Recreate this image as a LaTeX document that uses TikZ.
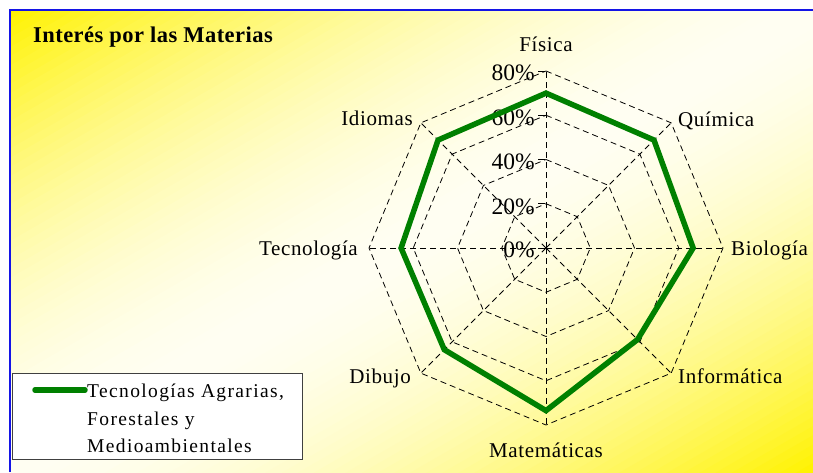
\documentclass[tikz,border=0pt]{standalone}
\usepackage{fontspec}
\usetikzlibrary{calc}
\setmainfont{Liberation Serif}
\newfontfamily\catfont[LetterSpace=3]{Liberation Serif}
\newfontfamily\legfont[LetterSpace=7]{Liberation Serif}
\newfontfamily\titfont[LetterSpace=2]{Liberation Serif}
\definecolor{serie}{RGB}{0,128,0}
\definecolor{frameblue}{RGB}{20,20,230}
\begin{document}
\begin{tikzpicture}[x=1pt,y=1pt,
  gridline/.style={black, line width=0.8pt, dash pattern=on 6pt off 4pt},
  catlabel/.style={inner sep=0pt, font=\catfont\fontsize{21}{24}\selectfont},
  pctlabel/.style={inner sep=0pt, anchor=base east, font=\fontsize{23.5}{26}\selectfont},
  leglabel/.style={inner sep=0pt, anchor=base west, font=\legfont\fontsize{19.5}{22}\selectfont},
  serieline/.style={serie, line width=5.5pt, line join=miter}]
\useasboundingbox (0,0) rectangle (813,472);
\fill[white] (0,0) rectangle (813,472);
% diagonal gradient: yellow corners (top-left, bottom-right), white across the other diagonal
\begin{scope}
\clip (9.5,0) rectangle (813,461.5);
\foreach \i in {0,...,99}{
  \pgfmathsetmacro\sa{\i*0.02}
  \pgfmathsetmacro\sb{\i*0.02+0.024}
  \pgfmathsetmacro\pp{5+95*(abs(0.5-(\i+0.5)/100)/0.5)^1.7}
  \pgfmathsetmacro\xa{9.5+\sa*401.75}
  \pgfmathsetmacro\ya{461.5-\sa*230.75}
  \pgfmathsetmacro\xb{9.5+\sb*401.75}
  \pgfmathsetmacro\yb{461.5-\sb*230.75}
  \fill[yellow!\pp!white] (\xa-803.5,\ya-461.5) -- (\xa+803.5,\ya+461.5) -- (\xb+803.5,\yb+461.5) -- (\xb-803.5,\yb-461.5) -- cycle;
}
\end{scope}
\draw[frameblue, line width=2pt] (9.5,0) -- (9.5,461.5) -- (813,461.5);

% title
\node[inner sep=0pt, anchor=base west, font=\titfont\bfseries\fontsize{22.5}{24}\selectfont] (title) at (33,429) {Interés por las Materias};

% radar grid
\coordinate (C) at (546,224);
\foreach \r in {44.25,88.5,132.75,177}{
  \draw[gridline, shift={(C)}] (90:\r) -- (45:\r) -- (0:\r) -- (-45:\r) -- (-90:\r) -- (-135:\r) -- (180:\r) -- (135:\r) -- cycle;
}
\foreach \a in {90,45,0,-45,-90,-135,180,135}{
  \draw[gridline] (C) -- ++(\a:177);
}
\foreach \k in {0,1,2,3,4}{
  \draw[black, line width=0.8pt] ($(C)+(-8,\k*44.25)$) -- ($(C)+(-1,\k*44.25)$);
}

% percent labels
\node[pctlabel] (p0) at (535,215) {0\%};
\node[pctlabel] (p20) at (535,258) {20\%};
\node[pctlabel] (p40) at (535,302) {40\%};
\node[pctlabel] (p60) at (535,346) {60\%};
\node[pctlabel] (p80) at (535,391) {80\%};

% category labels
\node[catlabel, anchor=base] (fis) at (546,420) {Física};
\node[catlabel, anchor=base west] (qui) at (678,345) {Química};
\node[catlabel, anchor=base west] (bio) at (731,217) {Biología};
\node[catlabel, anchor=base west] (inf) at (678,89) {Informática};
\node[catlabel, anchor=base] (mat) at (546,15) {Matemáticas};
\node[catlabel, anchor=base east] (dib) at (411,89) {Dibujo};
\node[catlabel, anchor=base east] (tec) at (358,217) {Tecnología};
\node[catlabel, anchor=base east] (idi) at (413,346) {Idiomas};

% data series
\coordinate (v1) at ($(C)+(90:70*2.2125)$);
\coordinate (v2) at ($(C)+(45:69*2.2125)$);
\coordinate (v3) at ($(C)+(0:66.5*2.2125)$);
\coordinate (v4) at ($(C)+(-45:58.5*2.2125)$);
\coordinate (v5) at ($(C)+(-90:73.5*2.2125)$);
\coordinate (v6) at ($(C)+(-135:65*2.2125)$);
\coordinate (v7) at ($(C)+(180:65.5*2.2125)$);
\coordinate (v8) at ($(C)+(135:69*2.2125)$);
\draw[serieline] (v1) -- (v2) -- (v3) -- (v4) -- (v5) -- (v6) -- (v7) -- (v8) -- cycle;

% legend
\node[draw=black!75, line width=0.8pt, fill=white, inner sep=0pt, minimum width=290pt, minimum height=86pt, anchor=south west] (legend) at (12,12) {};
\coordinate (la) at (35,82);
\coordinate (lb) at (85,82);
\draw[serie, line width=5.5pt, line cap=round] (la) -- (lb);
\node[leglabel] (l1) at (87,75) {Tecnologías Agrarias,};
\node[leglabel] (l2) at (87,47) {Forestales y};
\node[leglabel] (l3) at (87,20) {Medioambientales};
\end{tikzpicture}
\end{document}
